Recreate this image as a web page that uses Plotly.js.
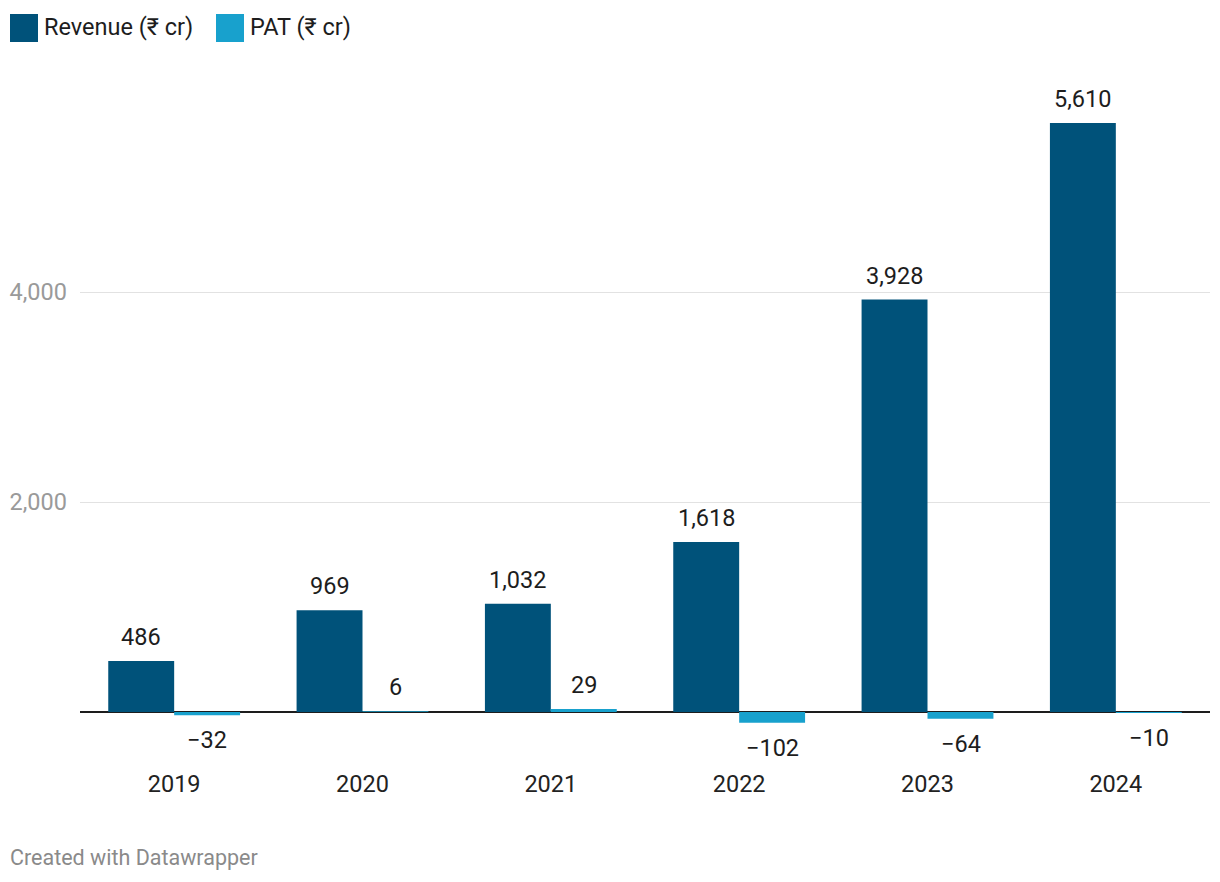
<!DOCTYPE html>
<html>
<head>
<meta charset="utf-8">
<script src="https://cdn.plot.ly/plotly-3.0.1.min.js"></script>
<style>
  html, body { margin: 0; padding: 0; background: #fff; }
  #chart { width: 1220px; height: 882px; }
</style>
</head>
<body>
<div id="chart"></div>
<script>
const years = ["2019", "2020", "2021", "2022", "2023", "2024"];
const revenue = [486, 969, 1032, 1618, 3928, 5610];
const pat = [-32, 6, 29, -102, -64, -10];
const seriesNames = ["Revenue (₹ cr)", "PAT (₹ cr)"];
const yTicks = [2000, 4000];

const colRev = "#00527a";
const colPat = "#18a1cd";
const FONT = "Roboto, 'Noto Sans', sans-serif";

function fmt(v) {
  return v.toLocaleString("en-US").replace("-", "\u2212");
}

const traces = [
  { type: "bar", name: seriesNames[0], x: years, y: revenue, marker: { color: colRev }, hoverinfo: "x+y" },
  { type: "bar", name: seriesNames[1], x: years, y: pat, marker: { color: colPat }, hoverinfo: "x+y" }
];

const W = 1220, H = 882, L = 80, R = 10, T = 100, B = 120;
const plotW = W - L - R;
const px2paperX = px => (px - L) / plotW;
const plotH = H - T - B;
const px2paperY = py => (H - B - py) / plotH;

const annotations = [];
const series = [revenue, pat];
series.forEach((vals, si) => {
  vals.forEach((v, i) => {
    annotations.push({
      x: i, y: v, xref: "x", yref: "y",
      text: fmt(v), showarrow: false,
      xshift: si === 0 ? -33 : 33,
      xanchor: "center",
      yanchor: v >= 0 ? "bottom" : "top",
      yshift: v >= 0 ? 8 : -9,
      font: { family: FONT, size: 23.5, color: "#1d1d1d" }
    });
  });
});

// custom legend
const shapes = [];
const legendItems = [
  { name: seriesNames[0], color: colRev, x0: 10 },
  { name: seriesNames[1], color: colPat, x0: 216 }
];
legendItems.forEach(it => {
  shapes.push({
    type: "rect", xref: "paper", yref: "paper",
    x0: px2paperX(it.x0), x1: px2paperX(it.x0 + 28),
    y0: px2paperY(42), y1: px2paperY(14),
    fillcolor: it.color, line: { width: 0 }
  });
  annotations.push({
    xref: "paper", yref: "paper",
    x: px2paperX(it.x0 + 32), y: px2paperY(27),
    xanchor: "left", yanchor: "middle",
    text: it.name, showarrow: false,
    font: { family: FONT, size: 23.5, color: "#1d1d1d" }
  });
});

annotations.push({
  xref: "paper", yref: "paper",
  x: px2paperX(8), y: px2paperY(857),
  xanchor: "left", yanchor: "middle",
  text: "Created with Datawrapper", showarrow: false,
  font: { family: FONT, size: 21.5, color: "#8a8a8a" }
});

const yTop = (712 - T) / 0.105;
const yBot = -((H - B) - 712) / 0.105;

const layout = {
  width: W, height: H,
  margin: { l: L, r: R, t: T, b: B, pad: 0 },
  paper_bgcolor: "#fff", plot_bgcolor: "#fff",
  showlegend: false,
  barmode: "group",
  bargap: 0.3, bargroupgap: 0,
  font: { family: FONT, size: 20, color: "#1d1d1d" },
  xaxis: {
    type: "category",
    range: [-0.5, 5.5],
    showgrid: false, showline: false, zeroline: false,
    ticks: "", tickfont: { family: FONT, size: 23.5, color: "#222" },
    ticklabelstandoff: 5
  },
  yaxis: {
    range: [yBot, yTop],
    tickvals: yTicks,
    ticktext: yTicks.map(fmt),
    showgrid: true, gridcolor: "#e2e2e2", gridwidth: 1,
    zeroline: true, zerolinecolor: "#1d1d1d", zerolinewidth: 2,
    showline: false, ticks: "",
    tickfont: { family: FONT, size: 23.5, color: "#9a9a9a" },
    ticklabelstandoff: 12
  },
  annotations: annotations,
  shapes: shapes
};

Plotly.newPlot("chart", traces, layout, { displayModeBar: false, staticPlot: true });
</script>
</body>
</html>
